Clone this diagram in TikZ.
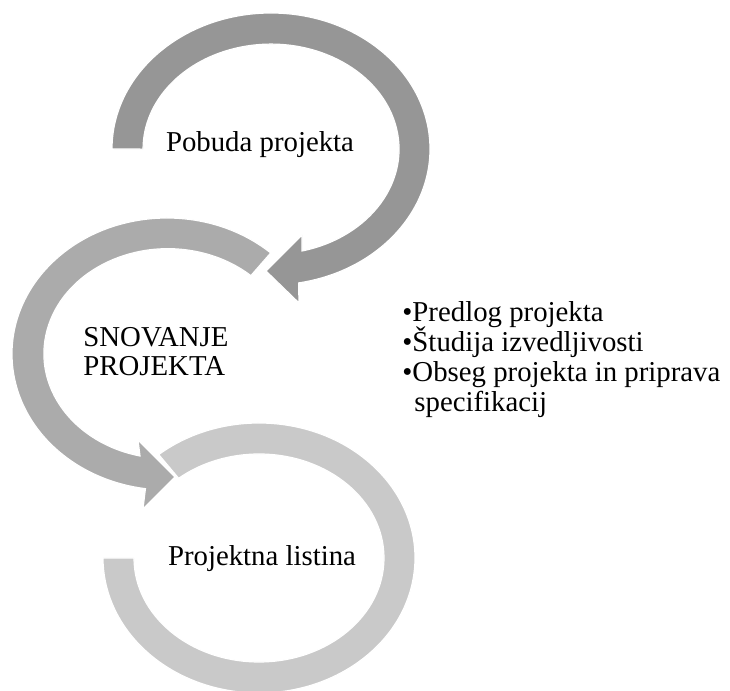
\documentclass[tikz,border=0pt]{standalone}
\usepackage{fontspec}
\setmainfont{Liberation Serif}
\definecolor{arcdark}{gray}{0.59}
\definecolor{arcmid}{gray}{0.67}
\definecolor{arclight}{gray}{0.79}

\begin{document}
\begin{tikzpicture}[x=0.5pt,y=0.5pt]
    \tikzstyle{ring}=[draw=white,line width=0.6pt,line join=miter]
    \tikzstyle{top ring}=[ring, fill=arcdark]
    \tikzstyle{middle ring}=[ring, fill=arcmid]
    \tikzstyle{bottom ring}=[ring, fill=arclight]
    \tikzstyle{annot}=[inner sep=0pt, anchor=base, font=\fontsize{14.4}{17}\selectfont]

    \useasboundingbox (0,0) rectangle (730,691);

    % Draw the bottom ring (no arrow head)
    \path[bottom ring] (259,133) ++(130:156 and 135)
        arc[start angle=130, end angle=-180, x radius=156, y radius=135]
        -- ++(31,0)
        arc[start angle=-180, end angle=130, x radius=125, y radius=104]
        -- cycle;

    % Draw the middle ring and its head
    \path[middle ring] (167,337) ++(48:155 and 136)
        arc[start angle=48, end angle=262, x radius=155, y radius=136]
        -- (143,182) -- (175,214) -- (138,251) -- (140,235)
        arc[start angle=257, end angle=48, x radius=124, y radius=105]
        -- cycle;

    % Draw the top ring and its head
    \path[top ring] (271,542) ++(180:159 and 136)
        arc[start angle=180, end angle=-80, x radius=159, y radius=136]
        -- (299,388) -- (266,420) -- (302,456) -- (302,440)
        arc[start angle=-76, end angle=180, x radius=128, y radius=105]
        -- cycle;

    % Annotate the rings
    \node[annot] (pobuda) at (260,539) {Pobuda projekta};
    \node[annot, anchor=base west] (snovanje) at (83,344) {SNOVANJE};
    \node[annot, anchor=base west] (projekta) at (83,315) {PROJEKTA};
    \node[annot] (listina) at (262,125) {Projektna listina};

    % The list beside the middle ring
    \foreach \name / \lbl in {0/Predlog projekta,1/Študija izvedljivosti,2/Obseg projekta in priprava}
        \node[annot, anchor=base west] (N-\name) at (402,369-30*\name) {\textbullet\lbl};
    \node[annot, anchor=base west] (N-3) at (414,279) {specifikacij};
\end{tikzpicture}
\end{document}
